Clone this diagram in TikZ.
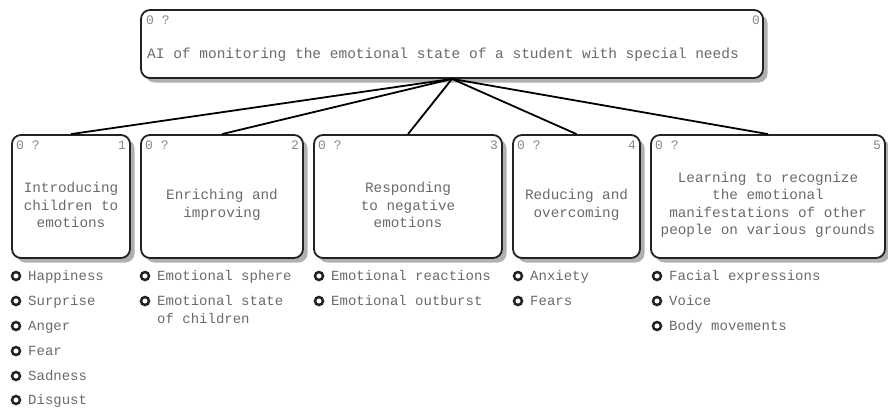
\documentclass[tikz,border=0pt]{standalone}
\usepackage{fontspec}
\setmainfont{Liberation Mono}
\usetikzlibrary{shadows}
\definecolor{txt}{HTML}{6A6A6A}
\definecolor{shd}{HTML}{B0B0B0}
\definecolor{edge}{HTML}{222222}
\begin{document}
\begin{tikzpicture}[x=1pt,y=-1pt,
  box/.style={draw=edge, line width=1.8pt, rounded corners=9pt, fill=white, inner sep=0pt,
    drop shadow={shadow xshift=4.5pt, shadow yshift=-4.5pt, fill=shd, opacity=1}},
  lbl/.style={font=\fontsize{14.3}{17.5}\selectfont, text=txt, align=center, inner sep=0pt},
  corner/.style={font=\fontsize{13}{15}\selectfont, text=txt!80, inner sep=0pt},
  item/.style={font=\fontsize{14}{18}\selectfont, text=txt, inner sep=0pt, anchor=base west},
  bul/.style={circle, draw=edge, line width=2.5pt, minimum size=8pt, inner sep=0pt},
  conn/.style={draw=black, line width=1.8pt}]
\useasboundingbox (0,0) rectangle (888,408);

% root
\node[box, minimum width=622pt, minimum height=68pt] (root) at (452,44) {};
\node[lbl, font=\fontsize{14.5}{17.5}\selectfont] (rt) at (443,55) {AI of monitoring the emotional state of a student with special needs};
\node[corner, anchor=base west] (rl) at (146,24) {0 ?};
\node[corner, anchor=base east] (rr) at (760,24) {0};

% children
\node[box, minimum width=118pt, minimum height=123pt] (c1) at (71,196.5) {};
\node[box, minimum width=162pt, minimum height=123pt] (c2) at (222,196.5) {};
\node[box, minimum width=188pt, minimum height=123pt] (c3) at (408,196.5) {};
\node[box, minimum width=127pt, minimum height=123pt] (c4) at (576.5,196.5) {};
\node[box, minimum width=234pt, minimum height=123pt] (c5) at (768,196.5) {};

\node[lbl] (t1) at (71,205) {Introducing\\children to\\emotions};
\node[lbl] (t2) at (222,205) {Enriching and\\improving};
\node[lbl] (t3) at (408,205) {Responding\\to negative\\emotions};
\node[lbl] (t4) at (576.5,205) {Reducing and\\overcoming};
\node[lbl] (t5) at (768,205) {Learning to recognize\\the emotional\\manifestations of other\\people on various grounds};

\node[corner, anchor=base west] (l1) at (16,149) {0 ?};
\node[corner, anchor=base east] (n1) at (126,149) {1};
\node[corner, anchor=base west] (l2) at (145,149) {0 ?};
\node[corner, anchor=base east] (n2) at (299,149) {2};
\node[corner, anchor=base west] (l3) at (318,149) {0 ?};
\node[corner, anchor=base east] (n3) at (498,149) {3};
\node[corner, anchor=base west] (l4) at (517,149) {0 ?};
\node[corner, anchor=base east] (n4) at (636,149) {4};
\node[corner, anchor=base west] (l5) at (655,149) {0 ?};
\node[corner, anchor=base east] (n5) at (881,149) {5};

% connectors
\draw[conn] (root.south) -- (c1.north);
\draw[conn] (root.south) -- (c2.north);
\draw[conn] (root.south) -- (c3.north);
\draw[conn] (root.south) -- (c4.north);
\draw[conn] (root.south) -- (c5.north);

% lists
\node[bul] (b11) at (16,276) {}; \node[item] (i11) at (28,280.5) {Happiness};
\node[bul] (b12) at (16,301) {}; \node[item] (i12) at (28,305.5) {Surprise};
\node[bul] (b13) at (16,326) {}; \node[item] (i13) at (28,330.5) {Anger};
\node[bul] (b14) at (16,351) {}; \node[item] (i14) at (28,355.5) {Fear};
\node[bul] (b15) at (16,376) {}; \node[item] (i15) at (28,380.5) {Sadness};
\node[bul] (b16) at (16,400) {}; \node[item] (i16) at (28,404) {Disgust};

\node[bul] (b21) at (145,276) {}; \node[item] (i21) at (157,280.5) {Emotional sphere};
\node[bul] (b22) at (145,301) {}; \node[item] (i22) at (157,305.5) {\begin{tabular}[t]{@{}l@{}}Emotional state\\[-0.5pt]of children\end{tabular}};

\node[bul] (b31) at (319,276) {}; \node[item] (i31) at (331,280.5) {Emotional reactions};
\node[bul] (b32) at (319,301) {}; \node[item] (i32) at (331,305.5) {Emotional outburst};

\node[bul] (b41) at (518,276) {}; \node[item] (i41) at (530,280.5) {Anxiety};
\node[bul] (b42) at (518,301) {}; \node[item] (i42) at (530,305.5) {Fears};

\node[bul] (b51) at (657,276) {}; \node[item] (i51) at (669,280.5) {Facial expressions};
\node[bul] (b52) at (657,301) {}; \node[item] (i52) at (669,305.5) {Voice};
\node[bul] (b53) at (657,326) {}; \node[item] (i53) at (669,330.5) {Body movements};
\end{tikzpicture}
\end{document}
